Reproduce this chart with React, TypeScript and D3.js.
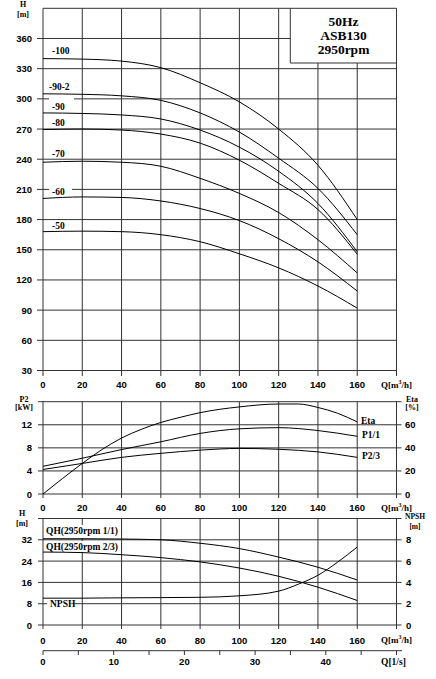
import React from "react";
import * as d3 from "d3";

// ---------- DATA ----------
const qPoints = [0, 20, 40, 60, 80, 100, 120, 140, 160];

const headSeries = [
  { name: "-100", values: [340, 339.5, 337.5, 331, 316, 297, 270, 234, 180], lx: 52, ly: 51 },
  { name: "-90-2", values: [305, 304.5, 303, 298.5, 286, 267, 241, 211, 165], lx: 49, ly: 87 },
  { name: "-90", values: [286, 285.5, 284, 280, 269, 252, 228, 196, 148], lx: 52, ly: 107 },
  { name: "-80", values: [269.5, 270, 269, 265, 256, 239, 216, 190, 145.6], lx: 52, ly: 123 },
  { name: "-70", values: [237, 238, 237, 233, 221, 206, 187, 160, 127], lx: 52, ly: 154 },
  { name: "-60", values: [201, 202.5, 202, 198.5, 191, 179, 161, 138, 109], lx: 52, ly: 192 },
  { name: "-50", values: [168, 168.5, 168, 165, 158, 146, 132, 114, 92], lx: 52, ly: 225.7 },
];

const etaQ = [0, 10, 20, 30, 40, 50, 60, 70, 80, 100, 120, 130, 140, 150, 160];
const etaValues = [0, 13.5, 26.5, 38.5, 48.5, 56, 62, 66.5, 70.5, 75.5, 78, 78, 75, 70, 62.5];
const p11Values = [4.8, 6.2, 7.7, 9.05, 10.5, 11.3, 11.5, 11.0, 10.0];
const p23Values = [4.25, 5.3, 6.35, 7.05, 7.6, 7.9, 7.75, 7.3, 6.35];

const qh11Values = [32.4, 32.4, 32.3, 32.0, 30.7, 28.7, 25.5, 21.7, 16.9];
const qh23Values = [27.4, 27.2, 26.4, 25.3, 23.7, 21.4, 18.3, 14.2, 9.2];
const npshQ = [0, 20, 40, 60, 80, 100, 120, 130, 140, 150, 160];
const npshValues = [2.52, 2.52, 2.55, 2.57, 2.6, 2.74, 3.18, 3.83, 4.67, 5.9, 7.32];

const qTicks = [0, 20, 40, 60, 80, 100, 120, 140, 160];
const qGrid = [20, 40, 60, 80, 100, 120, 140, 160];
const hTopTicks = [30, 60, 90, 120, 150, 180, 210, 240, 270, 300, 330, 360];
const p2Ticks = [0, 4, 8, 12];
const etaTicks = [0, 20, 40, 60];
const hBotTicks = [0, 8, 16, 24, 32];
const npshTicks = [0, 2, 4, 6, 8];
const lsTicks = [0, 5, 10, 15, 20, 25, 30, 35, 40, 45, 50];
const lsLabels = [0, 10, 20, 30, 40];
const boxLines = ["50Hz", "ASB130", "2950rpm"];

// ---------- LAYOUT ----------
const W = 436;
const H = 679;
const X0 = 43;
const X1 = 396.5;
const x = d3.scaleLinear().domain([0, 180]).range([X0, X1]);
const xLs = d3.scaleLinear().domain([0, 50]).range([X0, X1]);

const yTop = d3.scaleLinear().domain([30, 390]).range([370.5, 8.3]);
const yMidL = d3.scaleLinear().domain([0, 16]).range([494, 401.7]);
const yMidR = d3.scaleLinear().domain([0, 80]).range([494, 401.7]);
const yBotL = d3.scaleLinear().domain([0, 40]).range([625, 518.5]);
const yBotR = d3.scaleLinear().domain([0, 10]).range([625, 518.5]);

const GRID = "#333";
const NUM_FONT = "'Liberation Sans', Arial, sans-serif";
const LBL_FONT = "'Liberation Serif', 'Times New Roman', serif";

function makeLine(qs: number[], vs: number[], ys: d3.ScaleLinear<number, number>) {
  const pts = qs.map((q, i) => [q, vs[i]] as [number, number]);
  return d3
    .line<[number, number]>()
    .x((d) => x(d[0]))
    .y((d) => ys(d[1]))
    .curve(d3.curveMonotoneX)(pts) as string;
}

const numStyle: React.CSSProperties = { fontFamily: NUM_FONT, fontWeight: 700, fontSize: 9.5 };
const lblStyle: React.CSSProperties = { fontFamily: LBL_FONT, fontWeight: 700, fontSize: 9.5 };

function QLabel({ y }: { y: number }) {
  return (
    <text x={381} y={y} dominantBaseline="central" style={{ ...lblStyle, fontSize: 9 }}>
      Q[m<tspan dy={-3} fontSize={6}>3</tspan>
      <tspan dy={3}>/h]</tspan>
    </text>
  );
}

function XTickLabels({ y }: { y: number }) {
  return (
    <g>
      {qTicks.map((q) => (
        <text key={q} x={x(q)} y={y} textAnchor="middle" dominantBaseline="central" style={numStyle}>
          {q}
        </text>
      ))}
    </g>
  );
}

export default function App() {
  const topY0 = yTop(30);
  const topY1 = yTop(390);
  const boxLeft = 290.3;
  const boxBottom = 63;

  return (
    <svg
      width={W}
      height={H}
      viewBox={`0 0 ${W} ${H}`}
      style={{ position: "absolute", left: 0, top: 0, background: "#fff" }}
    >
      <rect x={0} y={0} width={W} height={H} fill="#fff" />

      {/* ================= TOP CHART ================= */}
      <g>
        {hTopTicks.map((v) => {
          const yy = yTop(v);
          const xEnd = yy < boxBottom ? boxLeft : X1;
          return <line key={v} x1={X0 - 6} x2={xEnd} y1={yy} y2={yy} stroke={GRID} strokeWidth={1} />;
        })}
        {qGrid.map((q) => {
          const xx = x(q);
          const yStart = xx > boxLeft ? boxBottom : topY1;
          return <line key={q} x1={xx} x2={xx} y1={yStart} y2={topY0 + 5.5} stroke={GRID} strokeWidth={1} />;
        })}
        <line x1={X0} x2={X0} y1={topY1} y2={topY0 + 5.5} stroke={GRID} strokeWidth={1} />
        <line x1={X0} x2={X1} y1={topY1} y2={topY1} stroke={GRID} strokeWidth={1} />
        <line x1={X1} x2={X1} y1={topY1} y2={topY0 + 5.5} stroke={GRID} strokeWidth={1} />
        <line x1={X0} x2={X1} y1={topY0} y2={topY0} stroke={GRID} strokeWidth={1} />
        <line x1={boxLeft} x2={boxLeft} y1={topY1} y2={boxBottom} stroke={GRID} strokeWidth={1} />
        <line x1={boxLeft} x2={X1} y1={boxBottom} y2={boxBottom} stroke={GRID} strokeWidth={1} />
        {boxLines.map((t, i) => (
          <text
            key={t}
            x={343.5}
            y={21 + i * 14.3}
            textAnchor="middle"
            dominantBaseline="central"
            style={{ fontFamily: LBL_FONT, fontWeight: 700, fontSize: 13.5 }}
          >
            {t}
          </text>
        ))}
        <rect x={49} y={yTop(300) - 2} width={25} height={4} fill="#fff" />
        <rect x={49} y={yTop(210) - 2} width={23} height={4} fill="#fff" />
        {headSeries.map((s) => (
          <path key={s.name} d={makeLine(qPoints, s.values, yTop)} fill="none" stroke="#000" strokeWidth={1} />
        ))}
        {headSeries.map((s) => (
          <text key={s.name} x={s.lx} y={s.ly} dominantBaseline="central" style={lblStyle}>
            {s.name}
          </text>
        ))}
        {hTopTicks.map((v) => (
          <text key={v} x={32} y={yTop(v)} textAnchor="end" dominantBaseline="central" style={numStyle}>
            {v}
          </text>
        ))}
        <text x={23} y={4} textAnchor="middle" dominantBaseline="central" style={{ ...lblStyle, fontSize: 8 }}>
          H
        </text>
        <text x={23} y={14.7} textAnchor="middle" dominantBaseline="central" style={{ ...lblStyle, fontSize: 8 }}>
          [m]
        </text>
        <XTickLabels y={384.5} />
        <QLabel y={384.5} />
      </g>

      {/* ================= MIDDLE CHART ================= */}
      <g>
        {p2Ticks.map((v) => (
          <line key={v} x1={X0 - 5} x2={X1 + 5} y1={yMidL(v)} y2={yMidL(v)} stroke={GRID} strokeWidth={1} />
        ))}
        <line x1={X0 - 5} x2={X1 + 5} y1={yMidL(16)} y2={yMidL(16)} stroke={GRID} strokeWidth={1} />
        {[0, ...qGrid, 180].map((q) => (
          <line key={q} x1={x(q)} x2={x(q)} y1={yMidL(16)} y2={yMidL(0) + 4} stroke={GRID} strokeWidth={1} />
        ))}
        <path d={makeLine(etaQ, etaValues, yMidR)} fill="none" stroke="#000" strokeWidth={1} />
        <path d={makeLine(qPoints, p11Values, yMidL)} fill="none" stroke="#000" strokeWidth={1} />
        <path d={makeLine(qPoints, p23Values, yMidL)} fill="none" stroke="#000" strokeWidth={1} />
        <text x={361} y={420.7} dominantBaseline="central" style={lblStyle}>Eta</text>
        <text x={362} y={435.3} dominantBaseline="central" style={lblStyle}>P1/1</text>
        <text x={362} y={456} dominantBaseline="central" style={lblStyle}>P2/3</text>
        {p2Ticks.map((v) => (
          <text key={v} x={32} y={yMidL(v)} textAnchor="end" dominantBaseline="central" style={numStyle}>
            {v}
          </text>
        ))}
        {etaTicks.map((v) => (
          <text key={v} x={405} y={yMidR(v)} dominantBaseline="central" style={numStyle}>
            {v}
          </text>
        ))}
        <text x={24} y={399} textAnchor="middle" dominantBaseline="central" style={{ ...lblStyle, fontSize: 8 }}>P2</text>
        <text x={24} y={407} textAnchor="middle" dominantBaseline="central" style={{ ...lblStyle, fontSize: 8 }}>[kW]</text>
        <text x={412} y={399} textAnchor="middle" dominantBaseline="central" style={{ ...lblStyle, fontSize: 8 }}>Eta</text>
        <text x={412} y={407} textAnchor="middle" dominantBaseline="central" style={{ ...lblStyle, fontSize: 8 }}>[%]</text>
        <XTickLabels y={507.7} />
        <QLabel y={507.7} />
      </g>

      {/* ================= BOTTOM CHART ================= */}
      <g>
        {hBotTicks.map((v) => (
          <line key={v} x1={X0 - 5} x2={X1 + 5} y1={yBotL(v)} y2={yBotL(v)} stroke={GRID} strokeWidth={1} />
        ))}
        <line x1={X0 - 5} x2={X1 + 5} y1={yBotL(40)} y2={yBotL(40)} stroke={GRID} strokeWidth={1} />
        {[0, ...qGrid, 180].map((q) => (
          <line key={q} x1={x(q)} x2={x(q)} y1={yBotL(40)} y2={yBotL(0) + 4} stroke={GRID} strokeWidth={1} />
        ))}
        <rect x={44} y={525} width={77} height={13} fill="#fff" />
        <rect x={44} y={541} width={77} height={11} fill="#fff" />
        <rect x={47} y={yBotL(8) - 3} width={26} height={6} fill="#fff" />
        <path d={makeLine(qPoints, qh11Values, yBotL)} fill="none" stroke="#000" strokeWidth={1} />
        <path d={makeLine(qPoints, qh23Values, yBotL)} fill="none" stroke="#000" strokeWidth={1} />
        <path d={makeLine(npshQ, npshValues, yBotR)} fill="none" stroke="#000" strokeWidth={1} />
        <text x={46} y={530.7} dominantBaseline="central" style={lblStyle}>QH(2950rpm 1/1)</text>
        <text x={46} y={546.7} dominantBaseline="central" style={lblStyle}>QH(2950rpm 2/3)</text>
        <text x={50} y={604} dominantBaseline="central" style={lblStyle}>NPSH</text>
        {hBotTicks.map((v) => (
          <text key={v} x={32} y={yBotL(v)} textAnchor="end" dominantBaseline="central" style={numStyle}>
            {v}
          </text>
        ))}
        {npshTicks.map((v) => (
          <text key={v} x={406} y={yBotR(v)} dominantBaseline="central" style={numStyle}>
            {v}
          </text>
        ))}
        <text x={22} y={513} textAnchor="middle" dominantBaseline="central" style={{ ...lblStyle, fontSize: 8 }}>H</text>
        <text x={22} y={523.5} textAnchor="middle" dominantBaseline="central" style={{ ...lblStyle, fontSize: 8 }}>[m]</text>
        <text x={415} y={516.5} textAnchor="middle" dominantBaseline="central" style={{ ...lblStyle, fontSize: 7.5 }}>NPSH</text>
        <text x={415} y={526} textAnchor="middle" dominantBaseline="central" style={{ ...lblStyle, fontSize: 7.5 }}>[m]</text>
        <XTickLabels y={640} />
        <QLabel y={640} />
      </g>

      {/* ================= Q [l/s] AXIS ================= */}
      <g>
        <line x1={X0} x2={402} y1={650.7} y2={650.7} stroke={GRID} strokeWidth={1} />
        {lsTicks.map((v) => (
          <line key={v} x1={xLs(v)} x2={xLs(v)} y1={650.7} y2={655} stroke={GRID} strokeWidth={1} />
        ))}
        {lsLabels.map((v) => (
          <text key={v} x={xLs(v)} y={661.7} textAnchor="middle" dominantBaseline="central" style={numStyle}>
            {v}
          </text>
        ))}
        <text x={381} y={661.7} dominantBaseline="central" style={lblStyle}>Q[1/s]</text>
      </g>
    </svg>
  );
}
